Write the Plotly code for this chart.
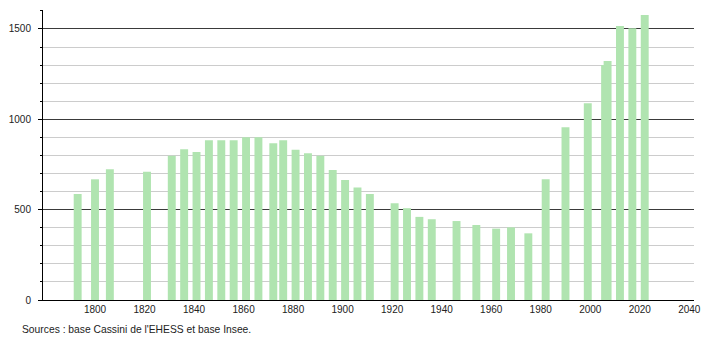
import plotly.graph_objects as go

years = [1793, 1800, 1806, 1821, 1831, 1836, 1841, 1846, 1851, 1856, 1861, 1866,
         1872, 1876, 1881, 1886, 1891, 1896, 1901, 1906, 1911, 1921, 1926, 1931,
         1936, 1946, 1954, 1962, 1968, 1975, 1982, 1990, 1999, 2006, 2007, 2012,
         2017, 2022]
population = [587, 668, 724, 710, 799, 834, 819, 884, 884, 884, 901, 901,
              868, 884, 831, 812, 799, 720, 664, 622, 587, 535, 508, 460,
              447, 437, 415, 395, 402, 369, 668, 956, 1089, 1301, 1323, 1517,
              1504, 1578]
x_ticks = [1800, 1820, 1840, 1860, 1880, 1900, 1920, 1940, 1960, 1980, 2000, 2020, 2040]
y_ticks = [0, 500, 1000, 1500]
source_text = "Sources : base Cassini de l'EHESS et base Insee."

fig = go.Figure()
fig.add_trace(go.Bar(
    x=years, y=population, width=3.2,
    marker=dict(color="rgb(176,228,176)", line=dict(width=0)),
    hoverinfo="x+y",
))

font = dict(family="Liberation Sans, Arial, sans-serif", size=10, color="#222")

fig.update_layout(
    width=710, height=340,
    margin=dict(l=43, r=9, t=10, b=40, pad=0),
    paper_bgcolor="white", plot_bgcolor="white",
    showlegend=False,
    font=font,
    xaxis=dict(
        range=[1779, 2041.9], tickvals=x_ticks, ticktext=[str(v) for v in x_ticks],
        showgrid=False, zeroline=False, showline=True, linecolor="black", linewidth=1,
        ticks="", tickfont=font,
    ),
    yaxis=dict(
        range=[0, 1605], tickvals=y_ticks, ticktext=[str(v) for v in y_ticks],
        showgrid=True, gridcolor="#3a3a3a", gridwidth=1,
        zeroline=False, showline=True, linecolor="black", linewidth=1,
        ticks="outside", ticklen=4, tickcolor="black", tickfont=font,
        ticklabelstandoff=5,
        minor=dict(dtick=100, showgrid=True, gridcolor="#cccccc", gridwidth=1,
                   ticks="outside", ticklen=2, tickcolor="black"),
    ),
    annotations=[dict(
        text=source_text, xref="paper", yref="paper",
        x=(20 - 43) / 658, y=(300 - 329) / 290, xanchor="left", yanchor="middle",
        showarrow=False, font=dict(family="Liberation Sans, Arial, sans-serif", size=10.3, color="#222"),
    )],
)

fig.write_html("out.html")
